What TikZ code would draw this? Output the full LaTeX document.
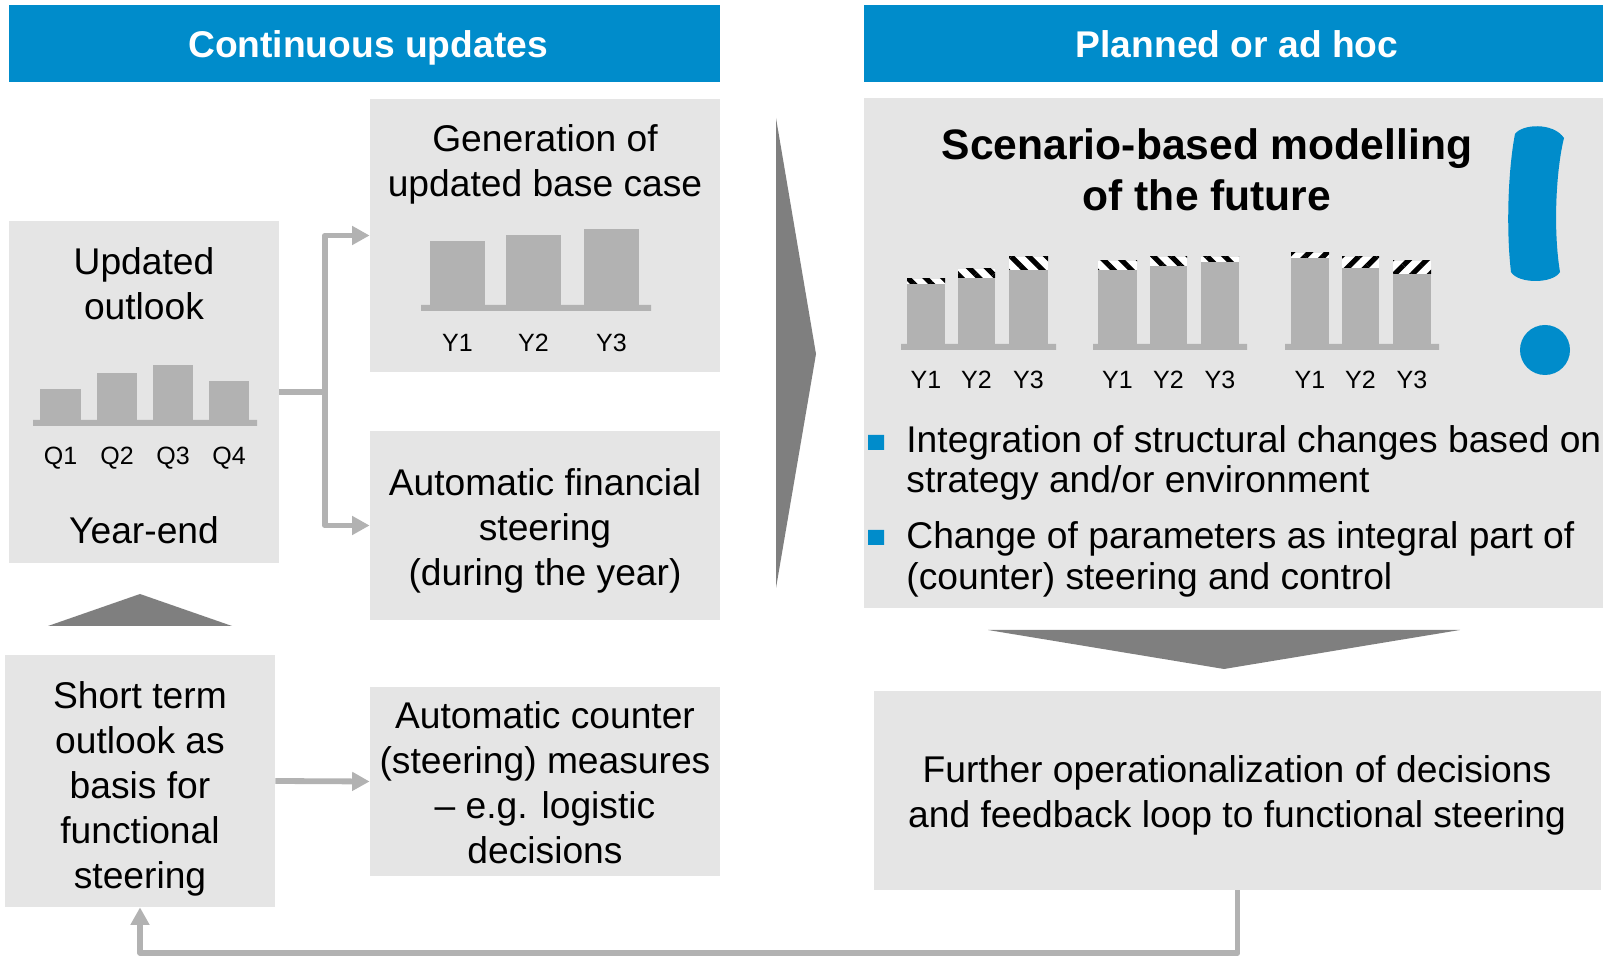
\documentclass[tikz,border=0pt]{standalone}
\usepackage{fontspec}
\setmainfont{Liberation Sans}
\usepackage{tikz}
\usetikzlibrary{arrows.meta,patterns.meta}
\definecolor{headblue}{HTML}{008CCB}
\definecolor{boxgrey}{HTML}{E5E5E5}
\definecolor{bargrey}{HTML}{B2B2B2}
\definecolor{wedgegrey}{HTML}{7F7F7F}
\tikzset{
	headbox/.style={fill=headblue,minimum height=38.5pt,inner sep=0pt},
	headtext/.style={text=white,font=\fontsize{18.6}{22}\selectfont\bfseries,inner sep=0pt},
	greybox/.style={fill=boxgrey,inner sep=0pt},
	body/.style={font=\fontsize{18.6}{22.5}\selectfont,align=center,inner sep=0pt},
	bullettext/.style={font=\fontsize{18.6}{20.2}\selectfont,align=left,anchor=west,inner sep=0pt},
	tick/.style={font=\fontsize{12.5}{15}\selectfont,inner sep=0pt},
	bar/.style={fill=bargrey},
	wedge/.style={fill=wedgegrey},
	link/.style={draw=bargrey,line width=2.9pt,line join=round},
	linkhead/.style={link,-{Triangle[length=8.7pt,width=9pt]}},
	hatchleft/.style={preaction={fill=white},pattern={Lines[angle=-45,distance=6.3pt,line width=2.6pt]}},
	hatchright/.style={preaction={fill=white},pattern={Lines[angle=45,distance=6.3pt,line width=2.6pt]}}
}
\begin{document}
\begin{tikzpicture}[x=0.5pt,y=-0.5pt]
	\useasboundingbox (0,0) rectangle (1603,956);
	\node[headbox,minimum width=355.5pt] (leftHead) at (364,43.5) {};
	\node[headbox,minimum width=369.5pt] (rightHead) at (1233.5,43.5) {};
	\node[headtext,text height=14pt,text depth=4pt] (leftHeadText) at (368,48) {Continuous updates};
	\node[headtext,text height=14pt,text depth=4pt] (rightHeadText) at (1237,48) {Planned or ad hoc};

	\node[greybox,minimum width=135pt,minimum height=171pt] (outlook) at (144,392) {};
	\node[greybox,minimum width=175pt,minimum height=136.5pt] (basecase) at (545,235.5) {};
	\node[greybox,minimum width=175pt,minimum height=94.5pt] (financial) at (545,525.5) {};
	\node[greybox,minimum width=135pt,minimum height=126pt] (shortterm) at (140,781) {};
	\node[greybox,minimum width=175pt,minimum height=94.5pt] (counter) at (545,781.5) {};
	\node[greybox,minimum width=369.5pt,minimum height=255pt] (scenario) at (1233.5,353) {};
	\node[greybox,minimum width=363.5pt,minimum height=99.5pt] (further) at (1237.5,790.5) {};

	\node[body] (outlookText) at (144,283.5) {Updated\\outlook};
	\node[body] (yearend) at (144,530) {Year-end};
	\node[body] (basecaseText) at (545,164) {Generation of\\updated base case};
	\node[body] (financialText) at (545,530.5) {Automatic financial\\steering\\(during the year)};
	\node[body] (shorttermText) at (140,789) {Short term\\outlook as\\basis for\\functional\\steering};
	\node[body] (counterText) at (545,783) {Automatic counter\\(steering) measures\\– e.g. logistic\\decisions};
	\node[body] (furtherText) at (1237,795.5) {Further operationalization of decisions\\and feedback loop to functional steering};
	\node[body,font=\fontsize{21.3}{25.5}\selectfont\bfseries] (title) at (1207,170) {Scenario-based modelling\\of the future};
	\node[bullettext] (firstItem) at (906,463) {Integration of structural changes based on\\strategy and/or environment};
	\node[bullettext] (secondItem) at (906,559.5) {Change of parameters as integral part of\\(counter) steering and control};
	\fill[headblue] (868,435) rectangle (884,450) (868,530) rectangle (884,545);

	\fill[bar] (33,420) rectangle (257,426) (421,305) rectangle (651,311);
	\fill[bar] (901,344) rectangle (1056,350) (1093,344) rectangle (1247,350) (1285,344) rectangle (1439,350);
	\foreach \xa/\xb/\ytop/\name in {40/81/389/Q1,97/137/373/Q2,153/193/365/Q3,209/249/381/Q4} {
		\fill[bar] (\xa,\ytop) rectangle (\xb,420);
		\node[tick] (tick\name) at ({(\xa+\xb)/2},458) {\name};
	}
	\foreach \xa/\xb/\ytop/\name in {430/485/241/Y1,506/561/235/Y2,584/639/229/Y3} {
		\fill[bar] (\xa,\ytop) rectangle (\xb,305);
		\node[tick] (base\name) at ({(\xa+\xb)/2},343) {\name};
	}
	\foreach \xa/\xb/\yhatch/\ytop/\name in {907/945/279/284/Y1,958/995/269/278/Y2,1009/1048/257/270/Y3,1098/1137/261/270/Y1,1150/1187/257/266/Y2,1201/1239/257/262/Y3} {
		\path[hatchleft] (\xa,\yhatch) rectangle (\xb,\ytop);
		\fill[bar] (\xa,\ytop) rectangle (\xb,344);
		\node[tick] (scen\xa) at ({(\xa+\xb)/2},380) {\name};
	}
	\foreach \xa/\xb/\yhatch/\ytop/\name in {1291/1329/253/258/Y1,1342/1379/257/268/Y2,1393/1431/261/274/Y3} {
		\path[hatchright] (\xa,\yhatch) rectangle (\xb,\ytop);
		\fill[bar] (\xa,\ytop) rectangle (\xb,344);
		\node[tick] (scen\xa) at ({(\xa+\xb)/2},380) {\name};
	}

	\fill[wedge] (776,118) -- (816,354) -- (776,588) -- cycle;
	\fill[wedge] (48,626) -- (140,594) -- (232,626) -- cycle;
	\fill[wedge] (988,630) -- (1460,630) -- (1224,669) -- cycle;

	\fill[headblue] (1515,134) .. controls (1522,124) and (1553,122) .. (1564,138)
		.. controls (1556,170) and (1553,230) .. (1560,272)
		.. controls (1553,284) and (1518,284) .. (1511,272)
		.. controls (1506,230) and (1508,170) .. (1515,134) -- cycle;
	\fill[headblue] (1545,350) ellipse (25 and 25);

	\coordinate (split) at (325,392);
	\coordinate (returnCorner) at (140,953);
	\draw[link] (outlook.east) -- (split);
	\draw[linkhead] (split) |- (basecase.west);
	\draw[linkhead] (split) |- (financial.west);
	\draw[linkhead] (shortterm.east) -- (counter.west);
	\draw[linkhead] (further.south) |- (returnCorner) -- (shortterm.south);
\end{tikzpicture}
\end{document}
